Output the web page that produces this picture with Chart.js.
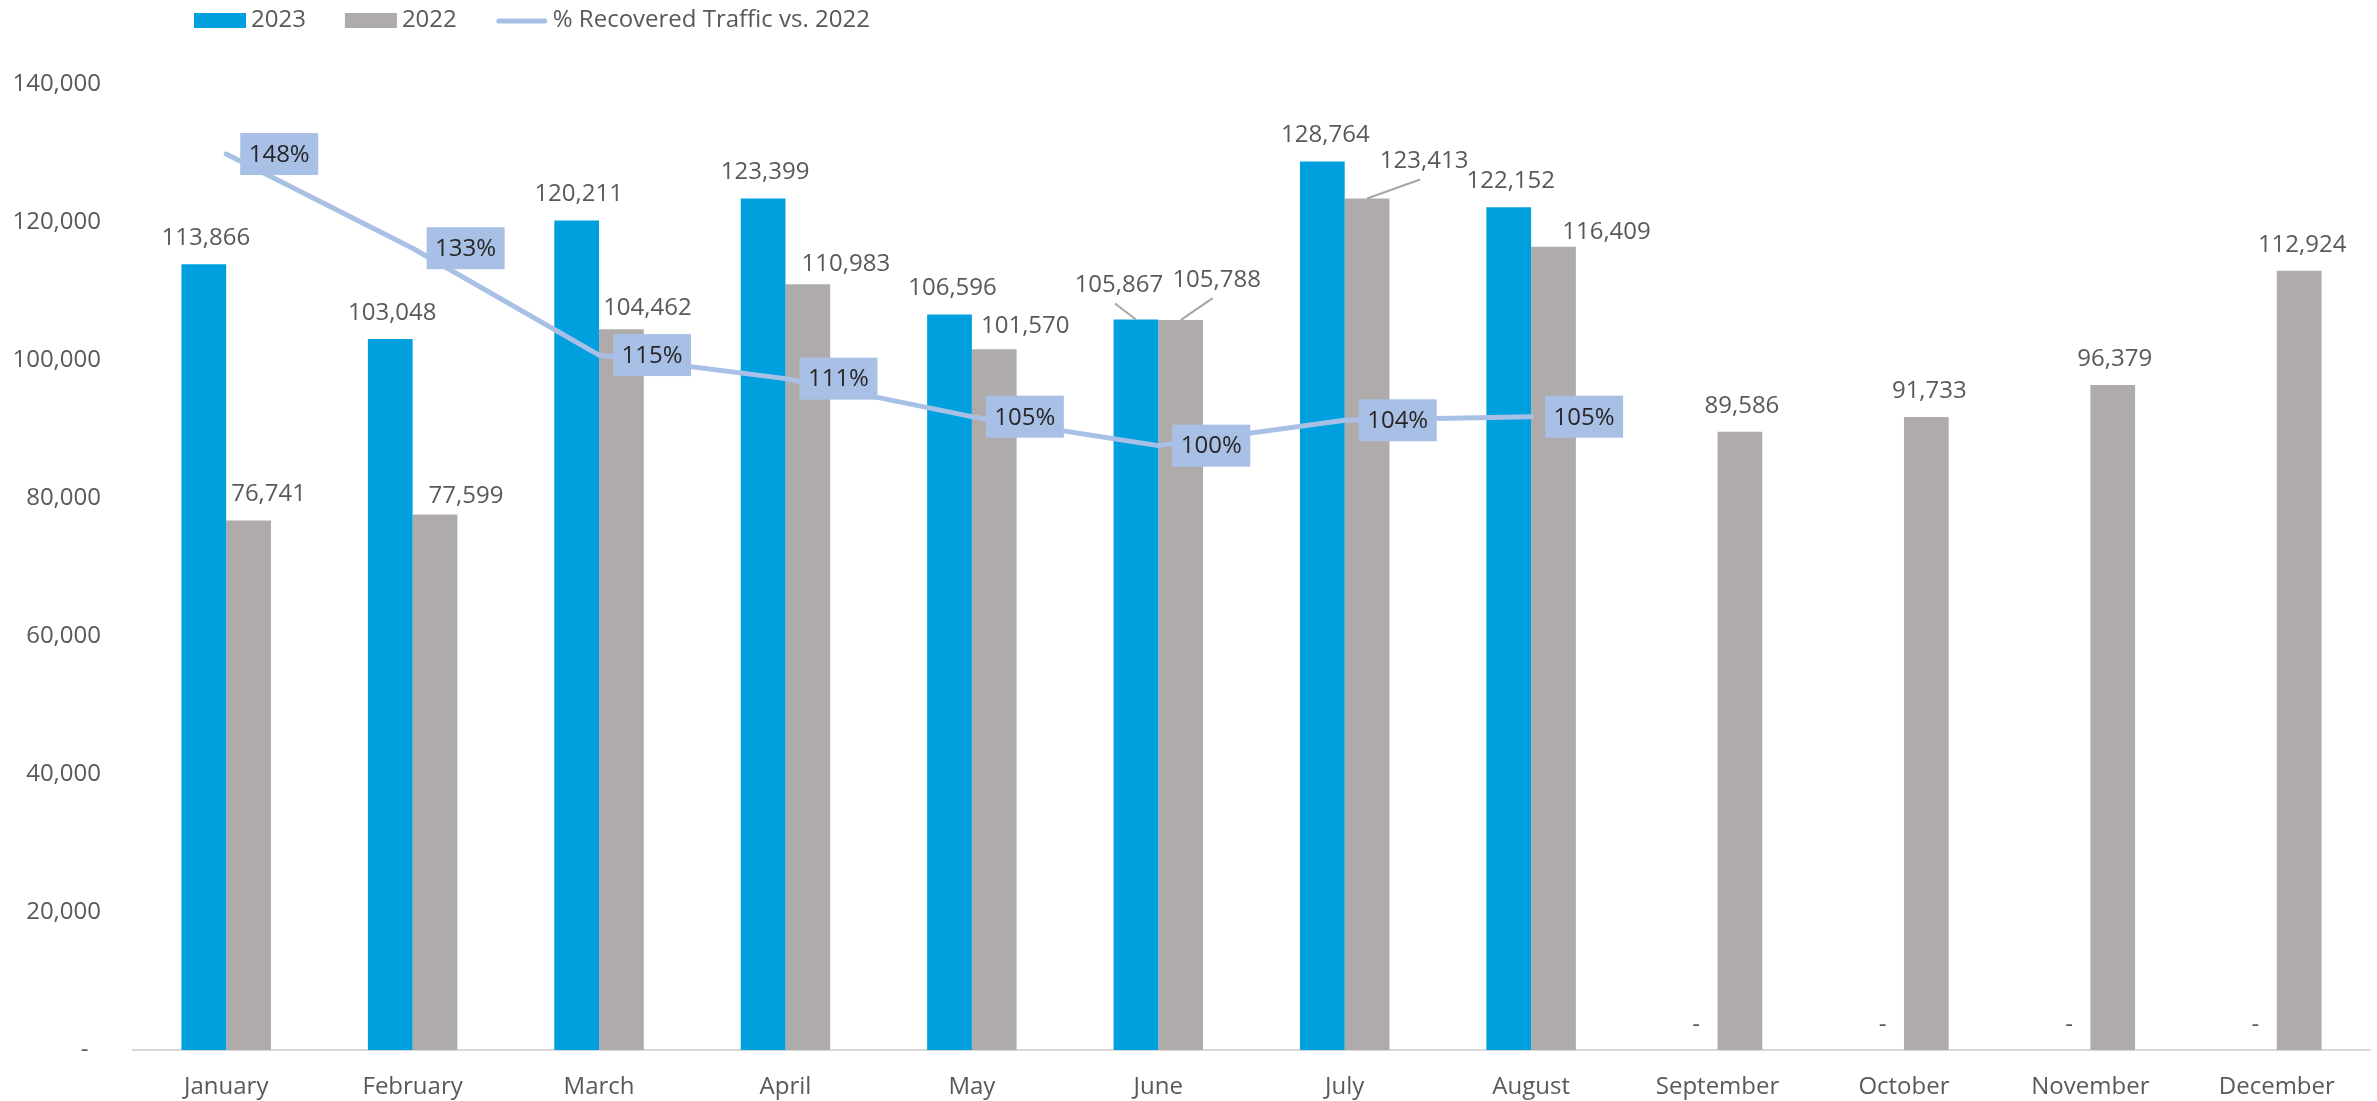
<!DOCTYPE html>
<html>
<head>
<meta charset="utf-8">
<script src="https://cdn.jsdelivr.net/npm/chart.js@4.4.0/dist/chart.umd.min.js"></script>
<style>
html,body{margin:0;padding:0;background:#ffffff;overflow:hidden}
#wrap{width:2377px;height:1101px}
</style>
</head>
<body>
<div id="wrap"><canvas id="c" width="2377" height="1101"></canvas></div>
<script>
// ---- data ----
const months = ['January','February','March','April','May','June','July','August','September','October','November','December'];
const traffic2023 = [113866, 103048, 120211, 123399, 106596, 105867, 128764, 122152, 0, 0, 0, 0];
const traffic2022 = [76741, 77599, 104462, 110983, 101570, 105788, 123413, 116409, 89586, 91733, 96379, 112924];
const recoveredPct = [148.4, 132.8, 115.1, 111.2, 104.9, 100.1, 104.3, 104.9, null, null, null, null];
const yTickLabels = ['-  ', '20,000', '40,000', '60,000', '80,000', '100,000', '120,000', '140,000'];
const seriesNames = ['2023', '2022', '% Recovered Traffic vs. 2022'];

// ---- style ----
const FONT = "'Open Sans', sans-serif";
const TEXT = '#595959';
const C2023 = '#00A0DE';
const C2022 = '#AFABAB';
const CLINE = '#A9C0E6';

const labelPlugin = {
  id: 'valueLabels',
  afterDatasetsDraw(chart, args, opts) {
    const ctx = chart.ctx;
    ctx.save();
    ctx.font = '24px ' + FONT;
    ctx.textAlign = 'center';
    ctx.textBaseline = 'middle';
    [0, 1].forEach(di => {
      const meta = chart.getDatasetMeta(di);
      const nd = opts.nudges[di];
      meta.data.forEach((bar, i) => {
        const v = chart.data.datasets[di].data[i];
        const text = v ? v.toLocaleString('en-US') : '-';
        const lx = bar.x + nd.dx[i];
        const ly = bar.y - opts.gap + nd.dy[i];
        if (opts.leaders.indexOf(di + '-' + i) >= 0) {
          ctx.strokeStyle = '#A6A6A6';
          ctx.lineWidth = 2;
          ctx.beginPath();
          ctx.moveTo(lx - 4, ly + 18);
          ctx.lineTo(bar.x, bar.y);
          ctx.stroke();
        }
        ctx.fillStyle = TEXT;
        ctx.fillText(text, lx, ly);
      });
    });
    const lm = chart.getDatasetMeta(2);
    lm.data.forEach((pt, i) => {
      const v = chart.data.datasets[2].data[i];
      if (v == null) return;
      const bx = pt.x + 14, by = pt.y - 21;
      ctx.fillStyle = CLINE;
      ctx.fillRect(bx, by, 78, 42);
      ctx.fillStyle = '#262626';
      ctx.fillText(Math.round(v) + '%', bx + 39, pt.y + 1);
    });
    ctx.restore();
  }
};

const legendPlugin = {
  id: 'customLegend',
  afterDraw(chart, args, opts) {
    const ctx = chart.ctx;
    ctx.save();
    ctx.font = '24px ' + FONT;
    ctx.textBaseline = 'middle';
    ctx.textAlign = 'left';
    let x = opts.x;
    const y = opts.y;
    chart.data.datasets.forEach(ds => {
      if (ds.type === 'line') {
        ctx.strokeStyle = ds.borderColor;
        ctx.lineWidth = 5;
        ctx.lineCap = 'round';
        ctx.beginPath();
        ctx.moveTo(x + 3, y + 1);
        ctx.lineTo(x + 49, y + 1);
        ctx.stroke();
      } else {
        ctx.fillStyle = ds.backgroundColor;
        ctx.fillRect(x, y - 7, 52, 15);
      }
      x += 57;
      ctx.fillStyle = TEXT;
      ctx.fillText(ds.label, x, y);
      x += ctx.measureText(ds.label).width + 39;
    });
    ctx.restore();
  }
};

new Chart(document.getElementById('c'), {
  type: 'bar',
  data: {
    labels: months,
    datasets: [
      { label: seriesNames[0], data: traffic2023, backgroundColor: C2023, order: 1, yAxisID: 'y',
        categoryPercentage: 0.48, barPercentage: 1.0 },
      { label: seriesNames[1], data: traffic2022, backgroundColor: C2022, order: 1, yAxisID: 'y',
        categoryPercentage: 0.48, barPercentage: 1.0 },
      { type: 'line', label: seriesNames[2], data: recoveredPct, yAxisID: 'y1', order: 0,
        borderColor: CLINE, backgroundColor: CLINE, borderWidth: 5, pointRadius: 0, pointHoverRadius: 0,
        tension: 0, borderCapStyle: 'round', borderJoinStyle: 'round', spanGaps: false, fill: false }
    ]
  },
  options: {
    responsive: false,
    animation: false,
    devicePixelRatio: 1,
    layout: { padding: { left: 13, top: 84, right: 7, bottom: 0 } },
    plugins: {
      legend: { display: false },
      tooltip: { enabled: false },
      valueLabels: {
        gap: 26,
        nudges: [
          { dx: [2, 2, 2, 2, 3, -17, 3, 2, 1, 1, 1, 1], dy: [0, 0, 0, 0, 0, -8, 0, 0, 1, 1, 1, 1] },
          { dx: [20, 31, 26, 38, 31, 36, 57, 53, 2, 3, 2, 3], dy: [0, 8, 5, 6, 3, -14, -11, 11, 0, 0, 0, 0] }
        ],
        leaders: ['0-5', '1-5', '1-6']
      },
      customLegend: { x: 194, y: 20 }
    },
    scales: {
      x: {
        grid: { display: false, drawTicks: false },
        border: { display: true, color: '#D9D9D9', width: 2 },
        ticks: { font: { family: FONT, size: 24, lineHeight: 1 }, color: TEXT, padding: 25, maxRotation: 0, autoSkip: false },
        afterFit(s) { s.height = 51; }
      },
      y: {
        min: 0, max: 140000,
        grid: { display: false, drawTicks: false },
        border: { display: false },
        ticks: { stepSize: 20000, font: { family: FONT, size: 24 }, color: TEXT, padding: 32,
          callback: (v, i) => yTickLabels[i] },
        afterFit(s) { s.width = 120; }
      },
      y1: { display: false, min: 0, max: 160 }
    }
  },
  plugins: [labelPlugin, legendPlugin]
});
</script>
</body>
</html>
